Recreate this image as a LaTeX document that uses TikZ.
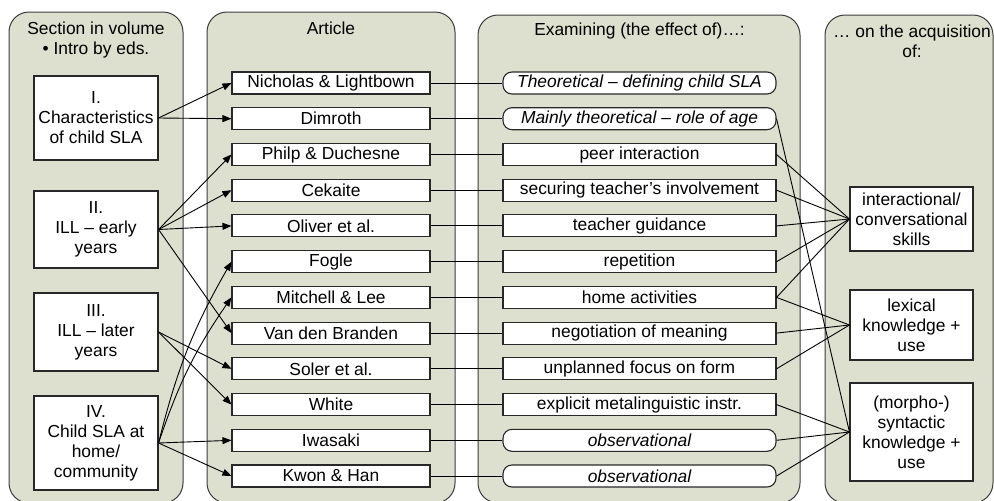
\documentclass[tikz,border=0pt]{standalone}
\usepackage{fontspec}
\setmainfont{Liberation Sans}
\usetikzlibrary{arrows.meta}
\definecolor{panelfill}{RGB}{221,224,206}
\definecolor{panelline}{RGB}{60,60,60}
\definecolor{boxline}{RGB}{40,40,40}
\begin{document}
\begin{tikzpicture}[x=1pt,y=-1pt,
  every node/.style={font=\fontsize{17.4}{20}\selectfont, inner sep=0pt, align=center},
  panel/.style={draw=panelline, fill=panelfill, line width=1pt, rounded corners=20pt},
  box/.style={draw=boxline, fill=white, line width=1.1pt, rectangle},
  secbox/.style={box, minimum width=124pt},
  artbox/.style={box, minimum width=198pt, minimum height=22pt},
  exbox/.style={box, minimum width=273pt, minimum height=22pt},
  pill/.style={exbox, rounded corners=9pt, font=\fontsize{17.4}{20}\selectfont\itshape},
  accbox/.style={box, minimum width=123pt},
  arr/.style={-{Triangle[length=9pt,width=7pt]}, line width=0.9pt},
  ln/.style={line width=0.9pt}
]
\useasboundingbox (0,0) rectangle (994,501);
\fill[white] (0,0) rectangle (994,501);
% panels
\draw[panel] (9,12) rectangle (183,503);
\draw[panel] (207,12) rectangle (455,503);
\draw[panel] (478,15) rectangle (800,503);
\draw[panel] (825,15) rectangle (993,503);
% headers
\node (h1) at (96,39.5) {Section in volume\\\textbullet\ Intro by eds.};
\node (h2) at (331,28) {Article};
\node (h3) at (639.5,31) {Examining (the effect of)…:};
\node (h4) at (912,41.5) {… on the acquisition\\of:};
% sections
\node[secbox, minimum height=84pt] (s1) at (96,118) {I.\\Characteristics\\of child SLA};
\node[secbox, minimum height=77pt] (s2) at (96,229.5) {II.\\ILL – early\\years};
\node[secbox, minimum height=78pt] (s3) at (96,332) {III.\\ILL – later\\years};
\node[secbox, minimum height=94pt] (s4) at (96,443) {IV.\\Child SLA at\\home/\\community};
% articles
\node[artbox] (a1)  at (331,83)    {Nicholas \& Lightbown};
\node[artbox] (a2)  at (331,118.7) {Dimroth};
\node[artbox] (a3)  at (331,154.5) {Philp \& Duchesne};
\node[artbox] (a4)  at (331,190.2) {Cekaite};
\node[artbox] (a5)  at (331,225.9) {Oliver et al.};
\node[artbox] (a6)  at (331,261.7) {Fogle};
\node[artbox] (a7)  at (331,297.4) {Mitchell \& Lee};
\node[artbox] (a8)  at (331,333.1) {Van den Branden};
\node[artbox] (a9)  at (331,368.8) {Soler et al.};
\node[artbox] (a10) at (331,404.6) {White};
\node[artbox] (a11) at (331,440.3) {Iwasaki};
\node[artbox] (a12) at (331,476)   {Kwon \& Han};
% examining
\node[pill]  (e1)  at (639.5,83)    {Theoretical \upshape–\itshape\ defining child SLA};
\node[pill]  (e2)  at (639.5,118.7) {Mainly theoretical \upshape–\itshape\ role of age};
\node[exbox] (e3)  at (639.5,154.5) {peer interaction};
\node[exbox] (e4)  at (639.5,190.2) {securing teacher’s involvement};
\node[exbox] (e5)  at (639.5,225.9) {teacher guidance};
\node[exbox] (e6)  at (639.5,261.7) {repetition};
\node[exbox] (e7)  at (639.5,297.4) {home activities};
\node[exbox] (e8)  at (639.5,333.1) {negotiation of meaning};
\node[exbox] (e9)  at (639.5,368.8) {unplanned focus on form};
\node[exbox] (e10) at (639.5,404.6) {explicit metalinguistic instr.};
\node[pill]  (e11) at (639.5,440.3) {observational};
\node[pill]  (e12) at (639.5,476)   {observational};
% acquisition
\node[accbox, minimum height=64pt] (c1) at (911.5,219) {interactional/\\conversational\\skills};
\node[accbox, minimum height=70pt] (c2) at (911.5,325) {lexical\\knowledge +\\use};
\node[accbox, minimum height=98pt] (c3) at (911.5,432) {(morpho-)\\syntactic\\knowledge +\\use};
% section -> article
\draw[arr] (s1.east) -- (a1.west);
\draw[arr] (s1.east) -- (a2.west);
\draw[arr] (s2.east) -- (a3.west);
\draw[arr] (s2.east) -- (a4.west);
\draw[arr] (s2.east) -- (a5.west);
\draw[arr] (s2.east) -- (a8.west);
\draw[arr] (s3.east) -- (a9.west);
\draw[arr] (s3.east) -- (a10.west);
\draw[arr] (s4.east) to[bend left=8] (a6.west);
\draw[arr] (s4.east) to[bend left=8] (a7.west);
\draw[arr] (s4.east) -- (a11.west);
\draw[arr] (s4.east) -- (a12.west);
% article -> examining
\foreach \i in {1,...,12} {\draw[ln] (a\i.east) -- (e\i.west);}
% examining -> acquisition
\draw[ln] (e2.east) -- (c3.west);
\draw[ln] (e3.east) -- (c1.west);
\draw[ln] (e4.east) -- (c1.west);
\draw[ln] (e5.east) -- (c1.west);
\draw[ln] (e6.east) -- (c1.west);
\draw[ln] (e7.east) -- (c1.west);
\draw[ln] (e7.east) -- (c2.west);
\draw[ln] (e8.east) -- (c2.west);
\draw[ln] (e9.east) -- (c2.west);
\draw[ln] (e10.east) -- (c3.west);
\draw[ln] (e11.east) -- (c3.west);
\draw[ln] (e12.east) -- (c3.west);
\end{tikzpicture}
\end{document}
